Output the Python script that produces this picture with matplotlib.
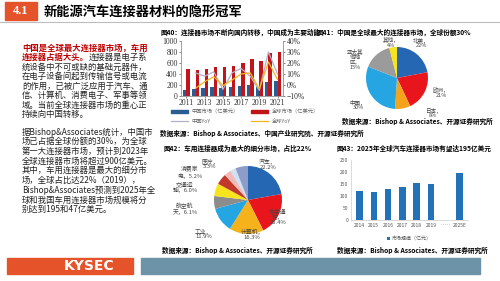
import matplotlib
matplotlib.use("Agg")
import matplotlib.pyplot as plt
import matplotlib.patches as mpatches
from matplotlib.lines import Line2D
from matplotlib.ticker import PercentFormatter
import numpy as np

plt.rcParams['font.family'] = ['Noto Sans CJK SC', 'DejaVu Sans']

W, H = 500, 281
ORANGE = '#e4532a'
STEEL = '#6c93a8'

# fig 40: connector market, China vs global
years40 = [2011, 2012, 2013, 2014, 2015, 2016, 2017, 2018, 2019, 2020, 2021]
china_mkt = [115, 128, 138, 155, 148, 165, 190, 205, 155, 250, 280]
global_mkt = [490, 476, 488, 525, 522, 546, 601, 665, 642, 790, 800]
yoy_years = [2012, 2013, 2014, 2015, 2016, 2017, 2018, 2019, 2020, 2021]
china_yoy = [0.11, 0.08, 0.12, -0.04, 0.11, 0.15, 0.08, -0.05, 0.30, 0.10]
global_yoy = [-0.03, 0.03, 0.075, -0.005, 0.045, 0.10, 0.11, -0.035, 0.21, 0.05]

# fig 41: global share by region
regions41 = ['北美', '欧洲', '日本', '中国', '亚太其他地区', '其他']
shares41 = [22, 21, 8, 30, 15, 4]
labels41 = ['北美，\n22%', '欧洲，\n21%', '日本，\n8%', '中国，\n30%',
            '亚太其\n他地\n区，\n15%', '其他，\n4%']

# fig 42: connector end markets
segments42 = ['汽车', '信息通信', '计算机', '工业', '航空航天', '交通运输',
              '消费家电', '医疗', '', '']
shares42 = [22.2, 20.4, 16.3, 11.9, 6.1, 6.0, 5.2, 3.3, 2.6, 6.0]
labels42 = ['汽车，\n22.2%', '信息通\n信，\n20.4%', '计算机，\n16.3%', '工业，\n11.9%',
            '航空航\n天，6.1%', '交通运\n输，6.0%', '消费家\n电，5.2%', '医疗，\n3.3%']

# fig 43: global auto connector market
years43 = ['2014', '2015', '2016', '2017', '2018', '2019', '……', '2025E']
market43 = [120, 117, 130, 136, 153, 150, np.nan, 195]


def px_axes(fig, x0, y0, x1, y1):
    return fig.add_axes([x0 / W, 1 - y1 / H, (x1 - x0) / W, (y1 - y0) / H])


def ftext(fig, x, y, s, **kw):
    return fig.text(x / W, 1 - y / H, s, **kw)


fig = plt.figure(figsize=(5, 2.81), dpi=100)
fig.patch.set_facecolor('white')

# header
fig.patches.append(mpatches.Rectangle((5 / W, 1 - 20 / H), 32 / W, 18 / H,
                                      transform=fig.transFigure, color=ORANGE))
ftext(fig, 21, 11.5, '4.1', color='white', fontsize=9, fontweight='bold',
      family=['Liberation Serif'], ha='center', va='center')
ftext(fig, 44, 11.5, '新能源汽车连接器材料的隐形冠军', fontsize=9.5, fontweight='bold',
      ha='left', va='center')
fig.add_artist(Line2D([0, 1], [1 - 21.5 / H, 1 - 21.5 / H], transform=fig.transFigure,
                      color='#bdbdbd', lw=0.8))

# left text block
red = '#c00000'
fs = 6
ftext(fig, 22, 48, '中国是全球最大连接器市场，车用', color=red, fontsize=fs,
      fontweight='bold', va='center')
ftext(fig, 22, 57.5, '连接器占据大头。', color=red, fontsize=fs, fontweight='bold', va='center')
ftext(fig, 89, 57.5, '连接器是电子系', fontsize=fs, va='center', color='#222222')
body1 = ['统设备中不可或缺的基础元器件，',
         '在电子设备间起到传输信号或电流',
         '的作用，已被广泛应用于汽车、通',
         '信、计算机、消费电子、军事等领',
         '域。当前全球连接器市场的重心正',
         '持续向中国转移。']
for i, line in enumerate(body1):
    ftext(fig, 22, 67 + 9.5 * i, line, fontsize=fs, va='center', color='#222222')
body2 = ['据Bishop&Associates统计，中国市',
         '场已占据全球份额的30%，为全球',
         '第一大连接器市场，预计到2023年',
         '全球连接器市场将超过900亿美元。',
         '其中，车用连接器是最大的细分市',
         '场，全球占比达22%（2019），',
         'Bishop&Associates预测到2025年全',
         '球和我国车用连接器市场规模将分',
         '别达到195和47亿美元。']
for i, line in enumerate(body2):
    ftext(fig, 22, 132 + 9.7 * i, line, fontsize=fs, va='center', color='#222222')

# ---- fig 40 ----
tfs = 4.8
ftext(fig, 161, 32, '图40：连接器市场不断向国内转移，中国成为主要动能', fontsize=tfs,
      fontweight='bold', va='center')
ax1 = px_axes(fig, 181, 41, 283, 96)
x = np.array(years40)
ax1.bar(x - 0.19, china_mkt, width=0.38, color='#2a5d92')
ax1.bar(x + 0.19, global_mkt, width=0.38, color='#c0161b')
ax1.set_ylim(0, 1000)
ax1.set_yticks(range(0, 1001, 200))
ax1.set_xlim(2010.4, 2021.6)
ax1.set_xticks(range(2011, 2022, 2))
ax2 = ax1.twinx()
ax2.plot(yoy_years, china_yoy, color='#b4b0cc', lw=0.9)
ax2.plot(yoy_years, global_yoy, color='#f2b51c', lw=0.9)
ax2.set_ylim(-0.1, 0.4)
ax2.set_yticks([-0.1, 0, 0.1, 0.2, 0.3, 0.4])
ax2.yaxis.set_major_formatter(PercentFormatter(1.0, decimals=0))
for a in (ax1, ax2):
    a.spines['top'].set_visible(False)
    for s in ('left', 'right', 'bottom'):
        a.spines[s].set_color('#999999')
        a.spines[s].set_linewidth(0.5)
    a.tick_params(labelsize=5.5, length=1.5, width=0.4, pad=1, colors='#333333')
    for lab in a.get_xticklabels() + a.get_yticklabels():
        lab.set_family(['Liberation Serif'])
handles = [mpatches.Patch(color='#2a5d92'), Line2D([], [], color='#b4b0cc', lw=0.9),
           mpatches.Patch(color='#c0161b'), Line2D([], [], color='#f2b51c', lw=0.9)]
fig.legend(handles, ['中国市场（亿美元）', '中国YoY', '全球市场（亿美元）', '全球YoY'],
           ncol=2, loc='upper left', bbox_to_anchor=(166 / W, 1 - 104 / H),
           fontsize=3.8, frameon=False, handlelength=3.2, handleheight=0.6,
           columnspacing=2.2, labelspacing=0.9, labelcolor='#666666')
ftext(fig, 160, 133, '数据来源：Bishop & Associates、中国产业研究院、开源证券研究所',
      fontsize=tfs, fontweight='bold', va='center')

# ---- fig 41 ----
ftext(fig, 317, 32, '图41：中国是全球最大的连接器市场，全球份额30%', fontsize=tfs,
      fontweight='bold', va='center')
ax3 = px_axes(fig, 366, 47, 428, 109)
ax3.pie(shares41, colors=['#2567b3', '#e8161c', '#f5a31a', '#25a6e2', '#9b9b9b', '#f7e41c'],
        startangle=90, counterclock=False, wedgeprops=dict(linewidth=0))
ax3.set_xlim(-1, 1)
ax3.set_ylim(-1, 1)
ax3.set_aspect('equal')
pos41 = [(421, 43), (441, 93), (433, 113), (358, 105), (355, 59), (391, 42.5)]
for lab, (lx, ly) in zip(labels41, pos41):
    ftext(fig, lx, ly, lab, fontsize=4.0, ha='center', va='center', color='#444444',
          linespacing=1.0)
ftext(fig, 342, 121, '数据来源：Bishop & Associates、开源证券研究所', fontsize=tfs,
      fontweight='bold', va='center')

# ---- fig 42 ----
ftext(fig, 164, 148, '图42：车用连接器成为最大的细分市场，占比22%', fontsize=tfs,
      fontweight='bold', va='center')
ax4 = px_axes(fig, 214, 166, 282, 234)
ax4.pie(shares42, colors=['#2567b3', '#e8161c', '#f5b21a', '#25a6e2', '#8c8c8c',
                          '#f7e41c', '#c2392b', '#f2b9b9', '#cfe2f3', '#8e9cc9'],
        startangle=90, counterclock=False, wedgeprops=dict(linewidth=0))
ax4.set_xlim(-1, 1)
ax4.set_ylim(-1, 1)
ax4.set_aspect('equal')
pos42 = [(268, 164), (278, 217), (252, 234), (204, 234), (185, 209), (185, 187),
         (190, 172), (210, 164)]
for lab, (lx, ly) in zip(labels42, pos42):
    ftext(fig, lx, ly, lab, fontsize=4.2, ha='center', va='center', color='#444444',
          linespacing=1.0)
ftext(fig, 162, 250, '数据来源：Bishop & Associates、开源证券研究所', fontsize=tfs,
      fontweight='bold', va='center')

# ---- fig 43 ----
ftext(fig, 337, 148, '图43：2025年全球汽车连接器市场有望达195亿美元', fontsize=tfs,
      fontweight='bold', va='center')
ax5 = px_axes(fig, 351, 160, 468, 220)
ax5.bar(years43, market43, width=0.45, color='#2371b8', label='市场规模（亿元）')
ax5.set_ylim(0, 250)
ax5.set_yticks(range(0, 251, 50))
for s in ('top', 'right'):
    ax5.spines[s].set_visible(False)
for s in ('left', 'bottom'):
    ax5.spines[s].set_color('#cccccc')
    ax5.spines[s].set_linewidth(0.5)
ax5.tick_params(labelsize=3.6, length=0, pad=2, colors='#555555')
ax5.legend(loc='upper center', bbox_to_anchor=(0.5, -0.2), fontsize=3.6, frameon=False,
           handlelength=0.6, handleheight=0.6, handletextpad=0.3, labelcolor='#555555')
ftext(fig, 337, 250, '数据来源：Bishop & Associates、开源证券研究所', fontsize=tfs,
      fontweight='bold', va='center')

# footer
fig.patches.append(mpatches.Rectangle((7 / W, 1 - 274 / H), 126 / W, 16 / H,
                                      transform=fig.transFigure, color=ORANGE))
fig.patches.append(mpatches.Rectangle((141 / W, 1 - 274 / H), 339 / W, 16 / H,
                                      transform=fig.transFigure, color=STEEL))
ftext(fig, 89, 266, 'KYSEC', color='white', fontsize=10, fontweight='bold',
      family=['DejaVu Sans'], ha='center', va='center')

fig.savefig('out.png', dpi=100)
